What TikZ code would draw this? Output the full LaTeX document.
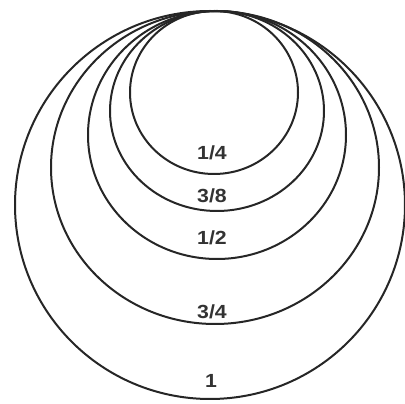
\documentclass[tikz,border=0pt]{standalone}
\usepackage{fontspec}
\setmainfont{Liberation Sans}
\begin{document}
\begin{tikzpicture}[x=1pt,y=1pt,
  ring/.style={draw=black!85,line width=2pt},
  lab/.style={font=\fontsize{19}{21}\selectfont\bfseries,text=black!80,xscale=1.12,inner sep=0pt}]
\useasboundingbox (0,0) rectangle (405,404);
\draw[ring] (214,311.5) ellipse [x radius=84,y radius=81.5];
\draw[ring] (217,293) ellipse [x radius=107,y radius=100];
\draw[ring] (217,269) ellipse [x radius=129,y radius=124];
\draw[ring] (215,236.5) ellipse [x radius=164,y radius=156.5];
\draw[ring] (210,199) ellipse [x radius=195,y radius=194];
\node[lab] (q1) at (212,251) {1/4};
\node[lab] (q2) at (212,208) {3/8};
\node[lab] (q3) at (212,166) {1/2};
\node[lab] (q4) at (212,92) {3/4};
\node[lab] (q5) at (211,23) {1};
\end{tikzpicture}
\end{document}
